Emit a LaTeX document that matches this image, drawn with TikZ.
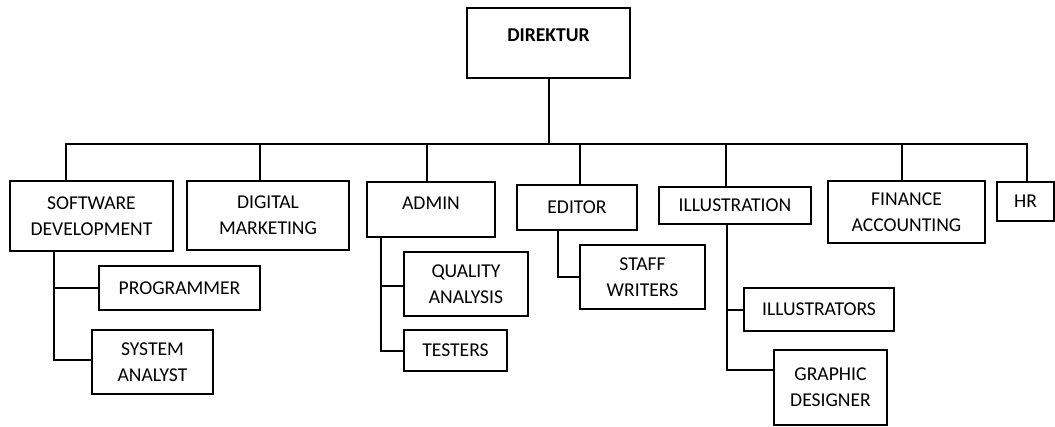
\documentclass[tikz,border=0pt]{standalone}
\usepackage{fontspec}
\setmainfont{Carlito}
\usepackage{tikz}
\usetikzlibrary{positioning,calc}

\begin{document}
\begin{tikzpicture}[x=1pt,y=-1pt,font=\fontsize{19.6}{26}\selectfont]
    \tikzset{
        unitBox/.style={draw,line width=1.3pt,inner sep=0pt,align=center},
        connLine/.style={line width=2pt}
    }
    \useasboundingbox (0,0) rectangle (1055,426);
    % top
    \node[unitBox,minimum width=163,minimum height=70,text depth=16,font=\fontsize{19.6}{26}\selectfont\bfseries] (direktur) at (548.5,43) {DIREKTUR};
    \coordinate (bus) at (548.5,144);
    \draw[connLine] (direktur.south) -- (bus);
    % departments
    \node[unitBox,minimum width=163,minimum height=70] (swdev) at (91.5,216) {SOFTWARE\\DEVELOPMENT};
    \node[unitBox,minimum width=162,minimum height=69] (digmark) at (268,215.5) {DIGITAL\\MARKETING};
    \node[unitBox,minimum width=128,minimum height=55,text depth=12] (admin) at (431,209.5) {ADMIN};
    \node[unitBox,minimum width=120,minimum height=45] (editor) at (577,207.5) {EDITOR};
    \node[unitBox,minimum width=152,minimum height=37] (illus) at (735,205.5) {ILLUSTRATION};
    \node[unitBox,minimum width=157,minimum height=62] (finance) at (906.5,212) {FINANCE\\ACCOUNTING};
    \node[unitBox,minimum width=57,minimum height=39] (hr) at (1025.5,201.5) {HR};
    \draw[connLine] (bus) -| ([xshift=-25.5]swdev.north);
    \draw[connLine] (bus) -| ([xshift=-8]digmark.north);
    \draw[connLine] (bus) -| ([xshift=-4]admin.north);
    \draw[connLine] (bus) -| ([xshift=3]editor.north);
    \draw[connLine] (bus) -| ([xshift=-9]illus.north);
    \draw[connLine] (bus) -| ([xshift=-4.5]finance.north);
    \draw[connLine] (bus) -| ([xshift=1.5]hr.north);
    % software development
    \node[unitBox,minimum width=161,minimum height=44] (programmer) at (179.5,288) {PROGRAMMER};
    \node[unitBox,minimum width=121,minimum height=64] (sysanalyst) at (152.5,362) {SYSTEM\\ANALYST};
    \draw[connLine] ([xshift=-37.5]swdev.south) |- (programmer.west);
    \draw[connLine] ([xshift=-37.5]swdev.south) |- ([yshift=2]sysanalyst.west);
    % admin
    \node[unitBox,minimum width=124,minimum height=64] (quality) at (466,284) {QUALITY\\ANALYSIS};
    \node[unitBox,minimum width=103,minimum height=41] (testers) at (455.5,350.5) {TESTERS};
    \draw[connLine] ([xshift=-50]admin.south) |- ([yshift=-2]quality.west);
    \draw[connLine] ([xshift=-50]admin.south) |- (testers.west);
    % editor
    \node[unitBox,minimum width=125,minimum height=64] (staff) at (642.5,277) {STAFF\\WRITERS};
    \draw[connLine] ([xshift=-19]editor.south) |- (staff.west);
    % illustration
    \node[unitBox,minimum width=150,minimum height=43] (illustrators) at (819,309.5) {ILLUSTRATORS};
    \node[unitBox,minimum width=113,minimum height=75] (graphic) at (830.5,387.5) {GRAPHIC\\DESIGNER};
    \draw[connLine] ([xshift=-8]illus.south) |- (illustrators.west);
    \draw[connLine] ([xshift=-8]illus.south) |- ([yshift=17.5]graphic.west);
\end{tikzpicture}
\end{document}
